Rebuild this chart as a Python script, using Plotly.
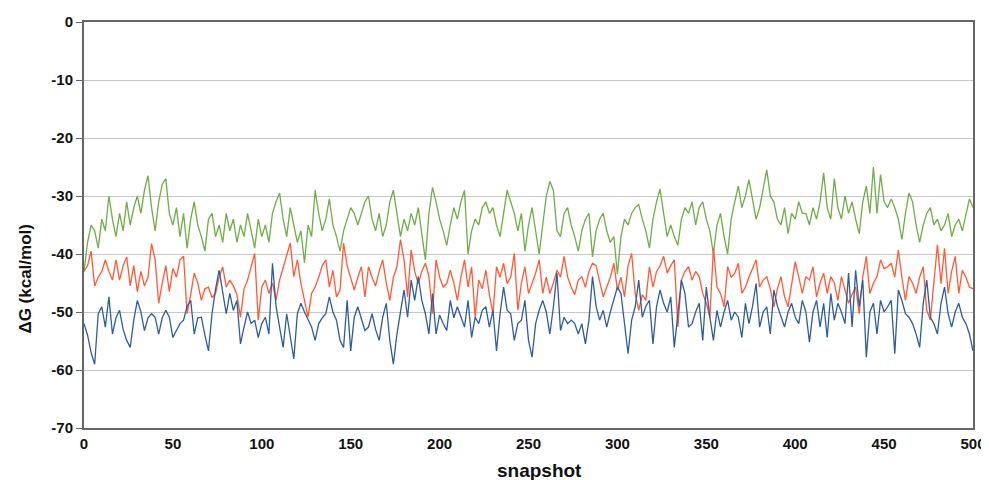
import plotly.graph_objects as go

snapshots = list(range(0, 501, 2))

green = [
    -43, -38, -35, -36, -39, -34, -36, -30, -34, -37,
    -33, -36, -31, -35, -32, -30, -33, -29, -26.5, -32,
    -36, -31, -28, -27, -33, -35, -32, -37, -33, -39,
    -34, -31, -35, -37, -39.5, -34, -33, -37, -35, -38,
    -33, -36, -34, -38, -35, -37, -33, -36, -39, -34,
    -37, -35, -38, -33, -31, -29.5, -34, -37, -32, -35,
    -38, -36, -41.5, -35, -37, -29, -33, -36, -34, -30.5,
    -35, -37, -39.5, -36, -34, -32, -33, -35, -33, -31,
    -30, -34, -36, -33, -37, -35, -31, -29, -33, -37,
    -34, -36, -33, -35, -32, -37, -41, -33, -28.5, -31,
    -34, -36, -38.5, -35, -32, -34, -31, -29, -40, -36,
    -34, -35, -32, -31, -33, -32, -35, -37, -33, -29,
    -31, -33, -36, -33, -39.5, -35, -32, -36, -40, -35,
    -30, -27.5, -29, -36, -37, -33, -32, -35, -37, -39.5,
    -36, -34, -33, -40.5, -36, -34, -33, -36, -38, -37,
    -43.5, -37, -34, -35, -33, -32, -31.5, -34, -36, -39,
    -34, -31, -28.8, -33, -37, -35, -37, -38.5, -34, -32,
    -33, -31, -35, -32, -31, -34, -36, -40, -35, -33,
    -37, -40, -34, -31, -28.3, -32, -30, -27.2, -31, -34,
    -32, -29, -25.5, -30, -31, -34, -35, -32, -36.5, -33,
    -34, -31, -33, -33, -35, -32, -34, -31, -26, -32,
    -34, -27, -32, -34, -30, -33, -31, -34, -36.5, -31,
    -28.3, -33, -25, -33, -26.3, -31, -32, -30.5, -32, -34,
    -37.5, -33, -29.5, -31, -35, -38, -35, -33, -32, -35,
    -34, -36, -35, -33, -37, -35, -34, -36, -33, -30.5,
    -32,
]

red = [
    -43, -42, -39.5, -45.5, -44, -43, -41, -43, -44.5, -41,
    -44.5, -42, -40.5, -45.5, -42, -46.5, -43, -45.5, -44, -38.2,
    -41, -48.5, -45, -42, -46.5, -42.5, -44, -41, -40.4, -50.3,
    -47, -43.3, -45, -48, -46, -45.7, -47.5, -46.8, -44, -42.2,
    -45.7, -44.5, -45.5, -47, -50.9, -46, -44.5, -42, -39.9, -51.4,
    -45.7, -44.5, -46.8, -45, -48, -44.5, -42.2, -40, -38.1, -43.9,
    -41, -45.1, -48, -50.9, -46.8, -45.7, -44, -42, -41, -45.7,
    -42.8, -47.4, -46.2, -38.1, -42, -43.9, -46.2, -44, -42.2, -47.4,
    -42.2, -44, -45.5, -43, -41, -45, -48, -44, -42.2, -37.5,
    -41, -47.4, -39.3, -43, -45.1, -43, -41.6, -43.9, -50.3, -41,
    -44, -45.7, -45.1, -42.8, -45, -48, -44, -41, -45.7, -42.2,
    -50.9, -44.5, -46, -42.8, -47, -50.3, -42.2, -44, -41.6, -45.1,
    -44, -39.9, -49.7, -45, -42.2, -46.8, -45, -43.3, -41, -46.8,
    -44, -46.8, -45, -42.8, -44, -40.4, -44, -45.7, -47, -44.5,
    -43.9, -45.7, -43, -41.6, -42, -45, -47.4, -45.7, -44, -41.6,
    -46.2, -44, -47.4, -42, -39.9, -46.8, -49.7, -47, -48, -42.2,
    -45.7, -43, -42, -40.4, -43.3, -42, -41, -52.6, -44.5, -43,
    -42.2, -44.5, -43, -43.9, -46.8, -48.5, -50.9, -39, -45.7, -46.8,
    -49.1, -42.2, -44, -43.3, -41.6, -46.8, -45.7, -44, -42.5, -41,
    -45.7, -44.5, -43.9, -46, -49.1, -46, -43.9, -47.4, -49.1, -45,
    -41.3, -44, -46.8, -43.9, -44.5, -42.2, -47.4, -45, -43.3, -46.8,
    -43.9, -45, -48, -43.9, -46.2, -48.5, -47, -45.7, -50.3, -44,
    -40.4, -46.8, -45, -43.9, -41, -42.5, -42.2, -41.6, -44, -39.3,
    -44, -48, -43.9, -45, -46.8, -44, -42.2, -49.7, -51.4, -45,
    -38.4, -45.1, -39, -46.8, -43, -40.4, -46.8, -42.8, -44, -45.7,
    -46,
]

blue = [
    -52, -54, -57, -59, -50.3, -49.1, -52.6, -47.4, -53.8, -51,
    -49.7, -53, -54.9, -56.1, -51.4, -48, -50, -53.2, -51, -50.3,
    -50.9, -53.8, -51, -49.7, -50.9, -54.4, -53.2, -52, -51.4, -49,
    -48, -53.8, -51, -50.9, -54, -56.7, -50.3, -46, -42.8, -46.8,
    -50.3, -46.8, -49.7, -48, -55.5, -52.6, -50, -52, -51.4, -54.4,
    -52, -50.9, -53.8, -41.6, -49, -52.6, -56.1, -50.3, -54.4, -58.1,
    -50.3, -48.5, -50, -51.4, -52.6, -54.9, -52, -51, -50.3, -47.4,
    -50, -51.4, -54.9, -56.1, -48, -56.7, -50.9, -49.1, -51, -53.2,
    -52.6, -50.3, -53, -54.9, -50.9, -48.5, -54.9, -59, -53.8, -50,
    -46.2, -50.9, -44.5, -48, -43.9, -48, -50.3, -53.8, -46.8, -53.8,
    -50.5, -52, -53.2, -48, -51, -49.1, -51, -52.6, -48, -54.4,
    -50.9, -52, -49.7, -49.1, -52.6, -49.7, -56.7, -50.3, -45.7, -49.7,
    -50.3, -54.9, -52, -51.4, -48, -54.9, -57.8, -52, -49.7, -48,
    -50, -53.8, -49.1, -43.3, -53.2, -50.9, -52, -51.4, -52, -53.8,
    -52, -55.5, -51.4, -43.9, -49, -51.4, -49.7, -52.6, -50, -48,
    -45.7, -46.8, -52, -57.2, -51.4, -49.1, -44.5, -50.9, -49, -48,
    -55.5, -49.1, -46.2, -48.5, -50, -47.4, -56.1, -50, -44.5, -46.8,
    -52.6, -52, -50, -48.5, -54.9, -45.7, -50.9, -54.9, -49.7, -52.6,
    -50, -48, -51.4, -50, -50.9, -54.4, -48.5, -52, -49, -45.1,
    -52.6, -50, -49.1, -53.8, -46.2, -49, -50.9, -52.6, -50, -48.5,
    -50.9, -52, -48, -50, -55.2, -50, -48, -52.6, -48.5, -54.4,
    -46.8, -51.4, -48.5, -50, -52, -43.3, -52.6, -42.8, -49.1, -44.5,
    -57.8, -50, -48.5, -53.8, -48, -50, -49.1, -48, -57.2, -46.2,
    -48, -50.3, -50.9, -52, -53.8, -56.1, -48.5, -44.5, -50.9, -52,
    -53.8, -48.5, -45.7, -50.3, -52.6, -50, -48.5, -50.9, -52, -53.8,
    -56.7,
]

x_ticks = [0, 50, 100, 150, 200, 250, 300, 350, 400, 450, 500]
y_ticks = [-70, -60, -50, -40, -30, -20, -10, 0]

x_title = "snapshot"
y_title = "ΔG (kcal/mol)"

series = [
    ("green", green, "#6fad47"),
    ("red", red, "#ff5a36"),
    ("blue", blue, "#2e5d9c"),
]

fig = go.Figure()
for name, vals, col in series:
    fig.add_trace(go.Scatter(
        x=snapshots[:len(vals)], y=vals, mode="lines", name=name,
        line=dict(color=col, width=1.3), showlegend=False,
    ))

font_family = "Liberation Sans, Arial, sans-serif"
dark = "#111111"

# page body has an 8px margin, so the figure is offset by 8px in the window
fig.update_layout(
    width=981, height=472,
    margin=dict(l=76, r=16, t=14, b=52),
    paper_bgcolor="white", plot_bgcolor="white",
    font=dict(family=font_family, color=dark),
    annotations=[
        dict(text=y_title, xref="paper", yref="paper", x=0, y=0.368,
             xanchor="center", yanchor="middle", xshift=-58, textangle=-90,
             showarrow=False,
             font=dict(size=17, weight="bold", family=font_family, color=dark)),
        dict(text=x_title, xref="paper", yref="paper", x=0.512, y=0,
             xanchor="center", yanchor="middle", yshift=-42,
             showarrow=False,
             font=dict(size=19, weight="bold", family=font_family, color=dark)),
    ],
)
fig.update_xaxes(
    range=[0, 500], tickvals=x_ticks, ticktext=[str(v) for v in x_ticks],
    showgrid=False, zeroline=False, automargin=False,
    showline=True, linecolor="#666666", linewidth=2, mirror=True,
    ticks="", ticklabelstandoff=1,
    tickfont=dict(size=15, weight="bold", family=font_family, color=dark),
)
fig.update_yaxes(
    range=[-70, 0], tickvals=y_ticks, ticktext=[str(v) for v in y_ticks],
    showgrid=True, gridcolor="#c8c8c8", gridwidth=1, zeroline=False, automargin=False,
    showline=True, linecolor="#666666", linewidth=2, mirror=True,
    ticks="outside", ticklen=6, tickcolor="#666666", tickwidth=1,
    tickfont=dict(size=15, weight="bold", family=font_family, color=dark),
)

fig.write_html("out.html")
